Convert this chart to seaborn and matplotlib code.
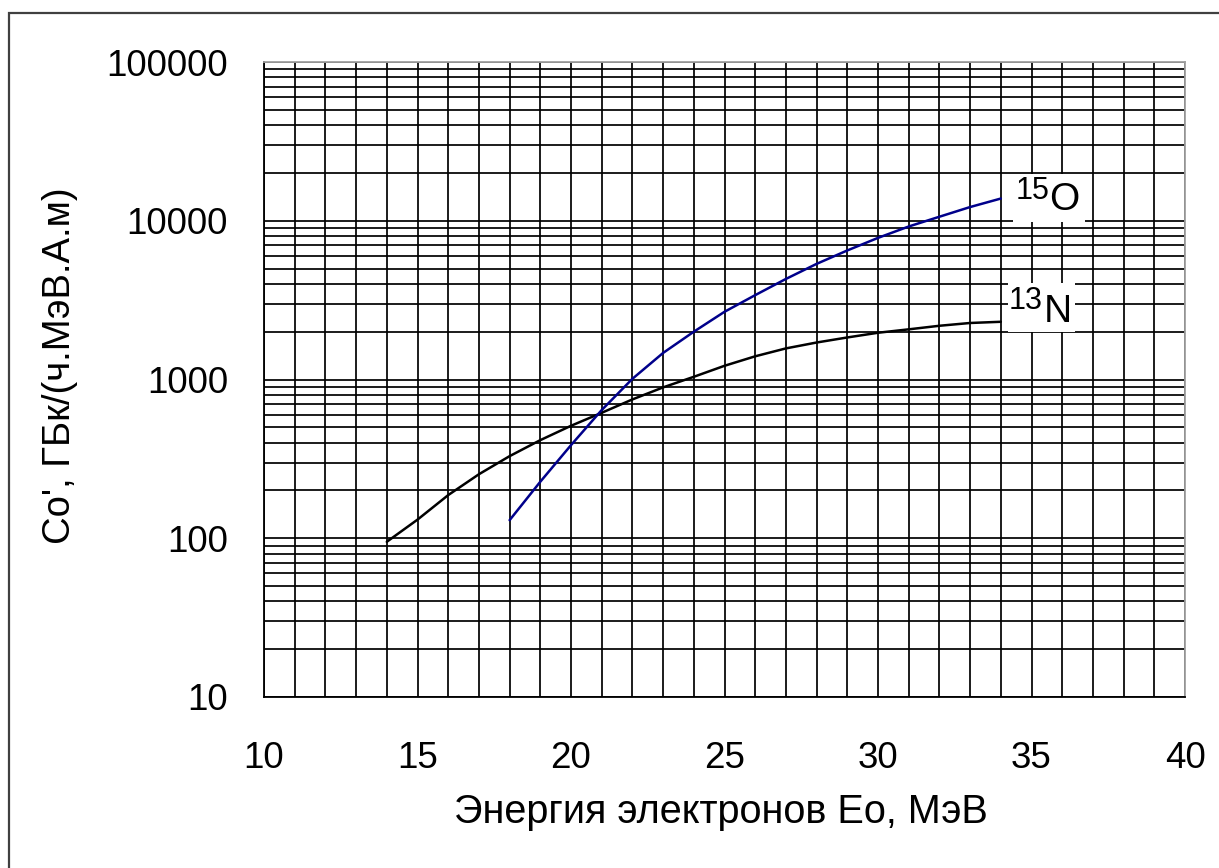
import numpy as np
import pandas as pd
import matplotlib
matplotlib.use("Agg")
import matplotlib.pyplot as plt
import matplotlib.ticker as mticker
from matplotlib.patches import Rectangle
import seaborn as sns

# energy, MeV
energy_n13 = [14, 15, 16, 17, 18, 19, 20, 21, 22, 23, 24,
              25, 26, 27, 28, 29, 30, 31, 32, 33, 34]
activity_n13 = [95, 131, 187, 253, 329, 415, 511, 617, 749, 892, 1040,
                1220, 1400, 1570, 1710, 1840, 1970, 2070, 2180, 2270, 2310]

energy_o15 = [18, 19, 20, 21, 22, 23, 24, 25, 26,
              27, 28, 29, 30, 31, 32, 33, 34]
activity_o15 = [130, 227, 386, 642, 1010, 1470, 2000, 2670, 3400,
                4300, 5350, 6500, 7800, 9200, 10600, 12200, 13800]

x_ticks = [10, 15, 20, 25, 30, 35, 40]
y_ticks = [10, 100, 1000, 10000, 100000]

sns.set_style("white")
plt.rcParams["font.family"] = ["Liberation Sans", "DejaVu Sans"]
plt.rcParams["text.color"] = "black"
plt.rcParams["xtick.color"] = "black"
plt.rcParams["ytick.color"] = "black"
plt.rcParams["axes.labelcolor"] = "black"

W, H = 1219, 868
fig = plt.figure(figsize=(W / 100, H / 100), dpi=100)
ax = fig.add_axes([264 / W, 1 - 697 / H, (1185 - 264) / W, (697 - 62) / H])

n13 = pd.DataFrame({"E": energy_n13, "C": activity_n13})
o15 = pd.DataFrame({"E": energy_o15, "C": activity_o15})

sns.lineplot(data=n13, x="E", y="C", ax=ax, color="black", linewidth=1.8, zorder=3)
sns.lineplot(data=o15, x="E", y="C", ax=ax, color="#00008b", linewidth=1.8, zorder=3)

ax.set_yscale("log")
ax.set_xlim(10, 40)
ax.set_ylim(10, 100000)

ax.set_xticks(x_ticks)
ax.xaxis.set_minor_locator(mticker.MultipleLocator(1))
ax.set_yticks(y_ticks)
ax.yaxis.set_major_formatter(mticker.FuncFormatter(lambda v, p: f"{int(round(v))}"))
ax.yaxis.set_minor_locator(mticker.LogLocator(base=10, subs=np.arange(2, 10)))
ax.yaxis.set_minor_formatter(mticker.NullFormatter())

ax.grid(True, which="both", color="black", linewidth=1.25)
ax.set_axisbelow(True)

ax.tick_params(axis="x", which="both", length=0, pad=32, labelsize=26.5)
ax.tick_params(axis="y", which="major", length=9, width=1.3, direction="out",
               pad=17, labelsize=26.5)
ax.tick_params(axis="y", which="minor", length=0)

for side in ["left", "bottom"]:
    ax.spines[side].set_color("black")
    ax.spines[side].set_linewidth(1.3)
for side in ["top", "right"]:
    ax.spines[side].set_color("#a0a0a0")
    ax.spines[side].set_linewidth(1.3)

ax.set_xlabel("")
ax.set_ylabel("")

# white patches behind the curve labels
ax.add_patch(Rectangle((34.40, 9820), 36.74 - 34.40, 19730 - 9820,
                       facecolor="white", edgecolor="none", zorder=4))
ax.add_patch(Rectangle((34.23, 1991), 36.42 - 34.23, 4056 - 1991,
                       facecolor="white", edgecolor="none", zorder=4))

ax.text(36.06, 13530, "O", fontsize=28, ha="center", va="center", zorder=5)
ax.text(35.02, 15380, "15", fontsize=22, ha="center", va="center", zorder=5)
ax.text(35.86, 2660, "N", fontsize=28, ha="center", va="center", zorder=5)
ax.text(34.82, 3119, "13", fontsize=22, ha="center", va="center", zorder=5)

fig.text(721 / W, 1 - 812 / H, "Энергия электронов Eo, МэВ", fontsize=28.5,
         ha="center", va="center")
fig.text(60 / W, 1 - 366 / H, "Co', ГБк/(ч.МэВ.А.м)", fontsize=27.5,
         ha="center", va="center", rotation=90)

# outer frame of the original picture
fig.patches.append(Rectangle((9 / W, -0.2), 1.5, 1.2 - 13 / H, transform=fig.transFigure,
                             fill=False, edgecolor="#404040", linewidth=1.6))

fig.savefig("out.png", dpi=100)
